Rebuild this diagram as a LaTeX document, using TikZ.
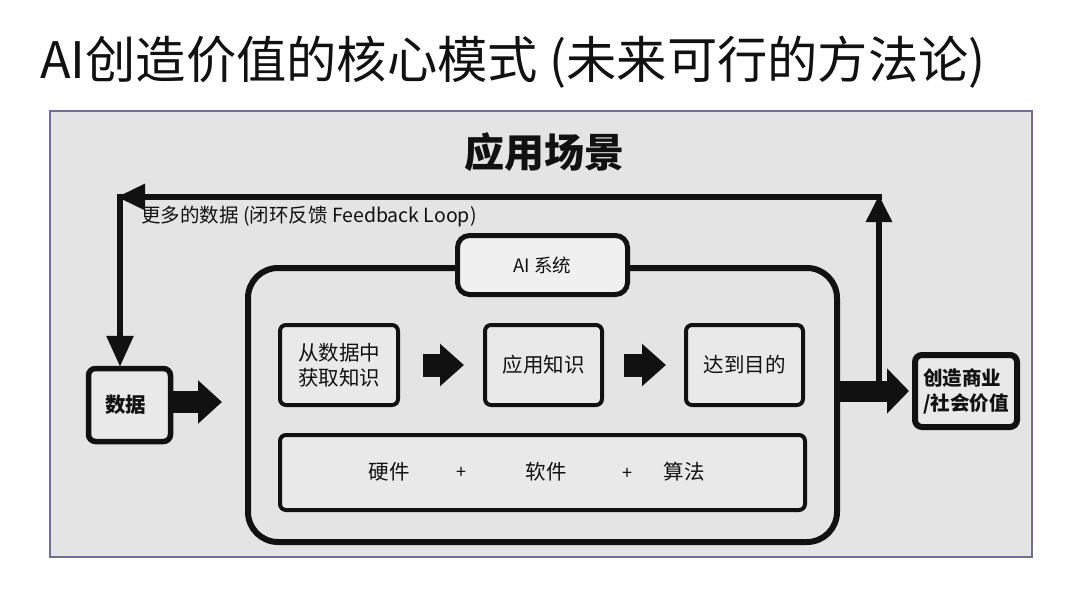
\documentclass[tikz,border=0pt]{standalone}
\usepackage{fontspec}
\setmainfont{Noto Sans CJK SC}
\usetikzlibrary{arrows.meta}
\definecolor{panelgray}{HTML}{E4E4E4}
\definecolor{boxgray}{HTML}{E9E9E9}
\definecolor{tabgray}{HTML}{F0F0F0}
\definecolor{panelline}{HTML}{6E6E96}
\definecolor{ink}{HTML}{111111}
\tikzset{
  panel/.style={draw=panelline, line width=1.5pt, fill=panelgray, minimum width=982pt, minimum height=446pt},
  stepbox/.style={draw=ink, line width=4pt, fill=boxgray, rounded corners=6pt, inner sep=0pt, align=center,
     font=\fontsize{20.5}{25}\selectfont, text=ink},
  thickbox/.style={draw=ink, line width=5.5pt, fill=boxgray, rounded corners=7pt, inner sep=0pt, align=center,
     text=ink},
  bigbox/.style={draw=ink, line width=6pt, fill=panelgray, rounded corners=30pt, minimum width=589pt, minimum height=274pt},
  tab/.style={draw=ink, line width=5pt, fill=tabgray, rounded corners=12pt, minimum width=170pt, minimum height=59pt,
     font=\fontsize{18.5}{22}\selectfont, text=ink},
  plain/.style={inner sep=0pt, text=ink},
  hwtext/.style={plain, font=\fontsize{20.5}{25}\selectfont},
  plus/.style={plain, font=\fontsize{18}{20}\selectfont},
  blockarrow/.style={draw=ink, line width=22pt, -{Triangle[length=24pt,width=42pt]}},
  fb/.style={draw=ink, line width=6pt},
}
\begin{document}
\begin{tikzpicture}[x=1pt,y=-1pt]
\useasboundingbox[fill=white] (0,0) rectangle (1080,600);
% title
\node[plain, font=\fontsize{50.3}{60}\selectfont] (title) at (513,62) {AI创造价值的核心模式 (未来可行的方法论)};
% panel
\node[panel] (panel) at (541,334) {};
\node[plain, font=\fontsize{40}{48}\selectfont\bfseries] (scene) at (544,152) {应用场景};
% AI system
\node[bigbox] (ai) at (542.5,405) {};
\node[tab] (aitab) at (542.5,265) {AI 系统};
\node[stepbox, minimum width=118pt, minimum height=80pt] (b1) at (339,365) {从数据中\\获取知识};
\node[stepbox, minimum width=117pt, minimum height=80pt] (b2) at (543.5,365) {应用知识};
\node[stepbox, minimum width=117pt, minimum height=80pt] (b3) at (744.5,365) {达到目的};
\node[stepbox, minimum width=525pt, minimum height=75pt] (hw) at (542.5,472.5) {};
\node[hwtext] (t1) at (389,472) {硬件};
\node[plus] (p1) at (461,473) {+};
\node[hwtext] (t2) at (546,472) {软件};
\node[plus] (p2) at (627,474) {+};
\node[hwtext] (t3) at (684,472) {算法};
% data and output
\node[thickbox, minimum width=82pt, minimum height=73pt, font=\fontsize{20.5}{25}\selectfont\bfseries] (data) at (129.5,405) {\hspace*{-8pt}数据};
\node[thickbox, line width=6pt, minimum width=102pt, minimum height=72pt, font=\fontsize{19.5}{25}\selectfont\bfseries, align=left] (out) at (966,391) {创造商业\\/社会价值};
% block arrows
\draw[blockarrow, shorten >=23pt] ([yshift=3pt]data.east) -- ([yshift=3pt]data.east -| ai.west);
\draw[blockarrow, line width=23pt, -{Triangle[length=24pt,width=41pt]}, shorten <=23pt, shorten >=19pt] (b1) -- (b2);
\draw[blockarrow, line width=23pt, -{Triangle[length=24pt,width=41pt]}, shorten <=20pt, shorten >=18pt] (b2) -- (b3);
\draw[blockarrow, line width=21pt, -{Triangle[length=22pt,width=44pt]}, shorten >=3pt] (out.west -| ai.east) -- (out.west);
% feedback loop
\coordinate (fbs) at (879,382);
\coordinate (fbtr) at (879,197);
\coordinate (fbtl) at (120,197);
\draw[fb, -{Triangle[length=27pt,width=25pt]}, shorten >=-2pt] (fbs) -- (fbtr);
\draw[fb, line cap=rect, -{Triangle[length=28pt,width=25pt]}, shorten >=-3pt] (fbtr) -- (fbtl);
\draw[fb, -{Triangle[length=31pt,width=26pt]}, shorten <=-3pt, shorten >=-1pt] (fbtl) -- (fbtl |- data.north);
\node[plain, font=\fontsize{19.5}{23}\selectfont, anchor=west] (fblabel) at (141,216) {更多的数据 (闭环反馈 Feedback Loop)};
\end{tikzpicture}
\end{document}
